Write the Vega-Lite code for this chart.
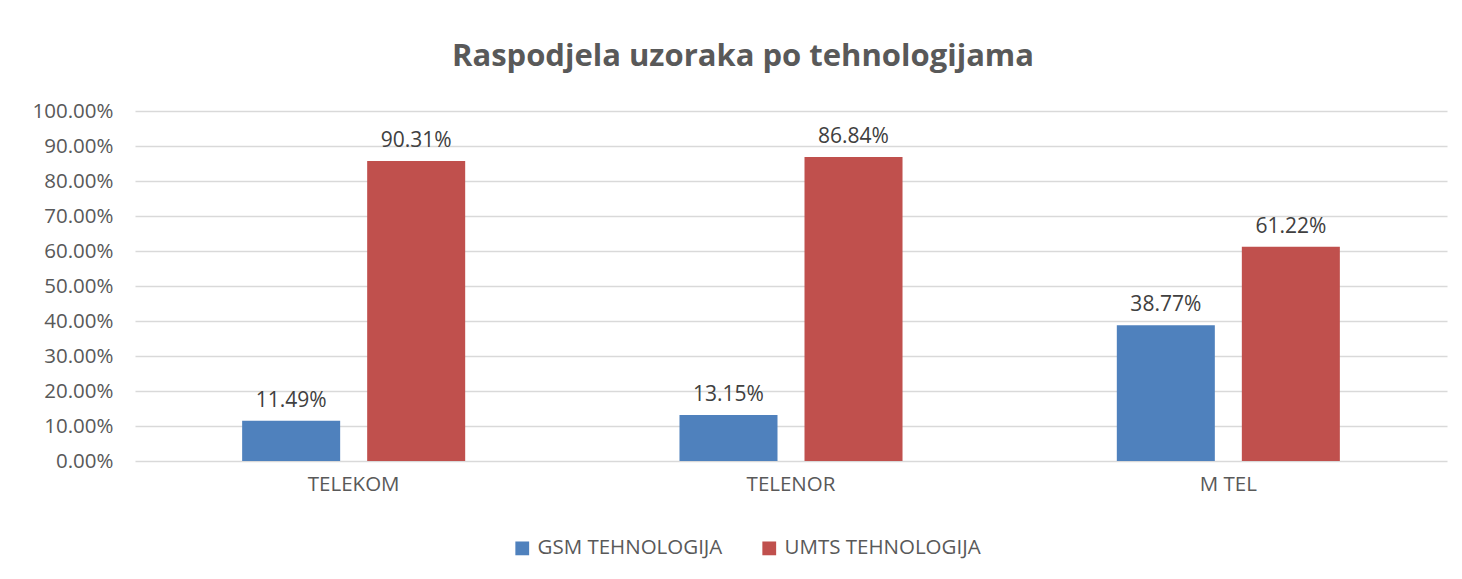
{
  "$schema": "https://vega.github.io/schema/vega-lite/v6.json",
  "autosize": "none",
  "width": 1312,
  "height": 350,
  "padding": {"left": 135, "top": 111, "right": 15, "bottom": 118},
  "background": "white",
  "title": {
    "text": "Raspodjela uzoraka po tehnologijama",
    "font": "Open Sans",
    "fontSize": 31,
    "fontWeight": "bold",
    "color": "#595959",
    "anchor": "middle",
    "dx": -48,
    "offset": 28
  },
  "data": {
    "values": [
      {"operator": "TELEKOM", "tech": "GSM TEHNOLOGIJA", "value": 0.1149, "label": "11.49%"},
      {"operator": "TELEKOM", "tech": "UMTS TEHNOLOGIJA", "value": 0.857, "label": "90.31%"},
      {"operator": "TELENOR", "tech": "GSM TEHNOLOGIJA", "value": 0.1315, "label": "13.15%"},
      {"operator": "TELENOR", "tech": "UMTS TEHNOLOGIJA", "value": 0.8684, "label": "86.84%"},
      {"operator": "M TEL", "tech": "GSM TEHNOLOGIJA", "value": 0.3877, "label": "38.77%"},
      {"operator": "M TEL", "tech": "UMTS TEHNOLOGIJA", "value": 0.6122, "label": "61.22%"}
    ]
  },
  "encoding": {
    "x": {
      "field": "operator",
      "type": "nominal",
      "sort": ["TELEKOM", "TELENOR", "M TEL"],
      "scale": {"paddingInner": 0.49, "paddingOuter": 0.245},
      "axis": {
        "title": null,
        "labelAngle": 0,
        "ticks": false,
        "domain": false,
        "labelFont": "Open Sans",
        "labelFontSize": 20.5,
        "labelColor": "#595959",
        "labelPadding": 13
      }
    },
    "xOffset": {
      "field": "tech",
      "type": "nominal",
      "scale": {"paddingInner": 0.216, "paddingOuter": 0}
    },
    "y": {
      "field": "value",
      "type": "quantitative",
      "scale": {"domain": [0, 1], "nice": false},
      "axis": {
        "title": null,
        "format": ".2%",
        "values": [0, 0.1, 0.2, 0.3, 0.4, 0.5, 0.6, 0.7, 0.8, 0.9, 1],
        "labelOverlap": false,
        "ticks": false,
        "domain": false,
        "labelFont": "Open Sans",
        "labelFontSize": 20.5,
        "labelColor": "#595959",
        "labelPadding": 22,
        "gridColor": "#d9d9d9",
        "gridWidth": 1.5
      }
    }
  },
  "layer": [
    {
      "mark": {"type": "bar"},
      "encoding": {
        "color": {
          "field": "tech",
          "type": "nominal",
          "scale": {"domain": ["GSM TEHNOLOGIJA", "UMTS TEHNOLOGIJA"], "range": ["#4F81BD", "#C0504D"]},
          "legend": {
            "title": null,
            "orient": "none",
            "direction": "horizontal",
            "legendX": 377,
            "legendY": 427,
            "symbolType": "square",
            "symbolSize": 190,
            "symbolStrokeWidth": 0,
            "symbolOpacity": 1,
            "labelFont": "Open Sans",
            "labelFontSize": 20.5,
            "labelColor": "#595959",
            "labelOffset": 5,
            "labelLimit": 0,
            "columnPadding": 36
          }
        }
      }
    },
    {
      "mark": {
        "type": "text",
        "baseline": "bottom",
        "dy": -10,
        "font": "Open Sans",
        "fontSize": 21,
        "color": "#404040"
      },
      "encoding": {
        "text": {"field": "label"}
      }
    }
  ],
  "config": {
    "view": {"stroke": null}
  }
}
